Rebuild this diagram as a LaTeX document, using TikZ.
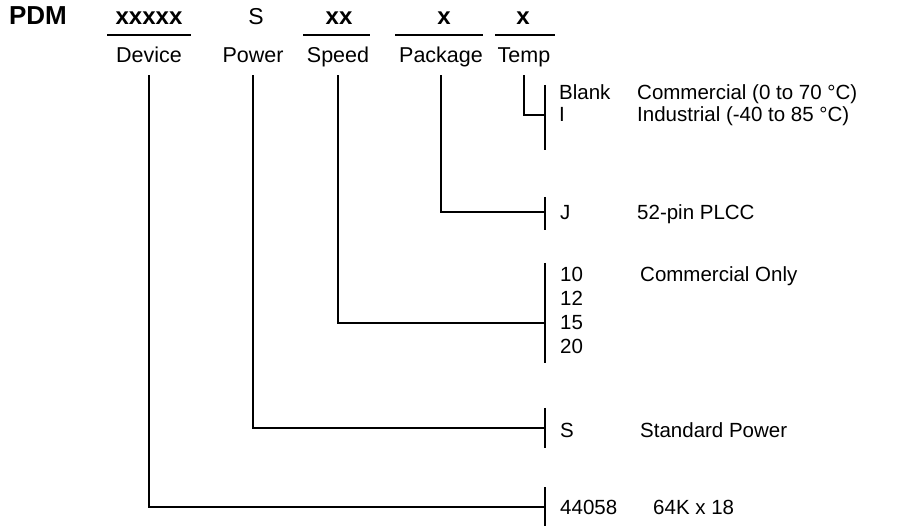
\documentclass[tikz,border=0pt]{standalone}
\usepackage{fontspec}
\setmainfont{Liberation Sans}
\usetikzlibrary{calc}
\tikzset{
  code/.style={anchor=base, inner sep=0pt, font=\fontsize{24}{28}\selectfont\bfseries},
  field/.style={anchor=base, inner xsep=0pt, inner ysep=7pt, text depth=5pt,
    font=\fontsize{21.5}{25}\selectfont},
  choice/.style={anchor=base west, inner sep=0pt, font=\fontsize{20.5}{24}\selectfont},
  wire/.style={line width=2pt}
}

\begin{document}
\begin{tikzpicture}[x=1pt, y=-1pt]
            \useasboundingbox (0,0) rectangle (897,526);

            \node [code, font=\fontsize{26}{30}\selectfont\bfseries] (pdm) at (38,25) {PDM};
            \node [code] (devcode) at (149,25) {xxxxx};
            \node [code, font=\fontsize{23}{27}\selectfont] (powcode) at (256,25) {S};
            \node [code] (spdcode) at (339,25) {xx};
            \node [code] (pkgcode) at (444,25) {x};
            \node [code] (tmpcode) at (523,25) {x};
            \foreach \a/\b in {107/191, 303/370, 395/483, 495/555}
                \draw [wire] (\a,35) -- (\b,35);

            \node [field] (dev) at (149,63) {Device};
            \node [field] (pow) at (253,63) {Power};
            \node [field] (spd) at (338,63) {Speed};
            \node [field] (pkg) at (441,63) {Package};
            \node [field] (tmp) at (524,63) {Temp};

            \coordinate (tmpbar) at (545,115);
            \coordinate (pkgbar) at (545,212);
            \coordinate (spdbar) at (545,323);
            \coordinate (powbar) at (545,428);
            \coordinate (devbar) at (545,507);
            \foreach \t/\b in {85/150, 197/230, 263/363, 408/448, 487/526}
                \draw [wire] (545,\t) -- (545,\b);

            \draw [wire] (tmp.south) |- (tmpbar);
            \draw [wire] (pkg.south) |- (pkgbar);
            \draw [wire] (spd.south) |- (spdbar);
            \draw [wire] (pow.south) |- (powbar);
            \draw [wire] (dev.south) |- (devbar);

            \node [choice] (blank) at (559,100) {Blank};
            \node [choice] (comm) at (637,100) {Commercial (0 to 70 °C)};
            \node [choice] (ind) at (559,122) {I};
            \node [choice] (indtxt) at (637,122) {Industrial (-40 to 85 °C)};
            \node [choice] (j) at (560,220) {J};
            \node [choice] (plcc) at (637,220) {52-pin PLCC};
            \node [choice] (s10) at (560,282) {10};
            \node [choice] (commonly) at (640,282) {Commercial Only};
            \node [choice] (s12) at (560,306) {12};
            \node [choice] (s15) at (560,330) {15};
            \node [choice] (s20) at (560,354) {20};
            \node [choice] (std) at (560,437) {S};
            \node [choice] (stdtxt) at (640,437) {Standard Power};
            \node [choice] (part) at (560,514) {44058};
            \node [choice] (parttxt) at (653,514) {64K x 18};
\end{tikzpicture}
\end{document}
